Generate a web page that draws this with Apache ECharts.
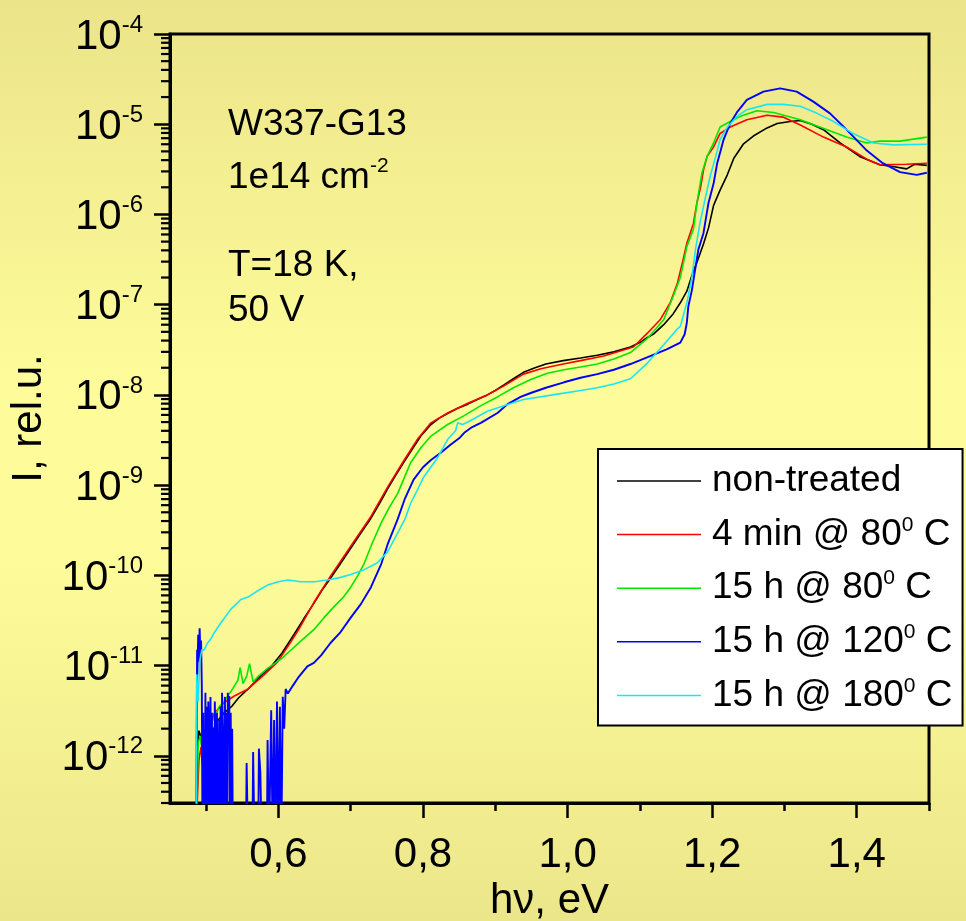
<!DOCTYPE html>
<html><head><meta charset="utf-8">
<script src="https://cdn.jsdelivr.net/npm/echarts@6/dist/echarts.min.js"></script>
<style>html,body{margin:0;padding:0;background:#fbf896;} #c{width:966px;height:921px;}</style>
</head><body><div id="c"></div>
<script>
const FONT = '"Liberation Sans", Arial, Helvetica, sans-serif';

// axis ticks / labels
const xLabelValues = [0.6, 0.8, 1.0, 1.2, 1.4];
const xMinorValues = [0.5, 0.7, 0.9, 1.1, 1.3, 1.5];
const yDecades = [1e-12, 1e-11, 1e-10, 1e-9, 1e-8, 1e-7, 1e-6, 1e-5, 1e-4];
const yMinorMantissas = [2, 3, 4, 5, 6, 7, 8, 9];
const xMin = 0.45, xMax = 1.5, yMin = 3e-13, yMax = 1e-4;

// legend / series names  (^x marks a superscript)
const seriesNames = ['non-treated', '4 min @ 80^0 C', '15 h @ 80^0 C', '15 h @ 120^0 C', '15 h @ 180^0 C'];
const seriesColors = ['#000000', '#ff0000', '#00e800', '#0000ff', '#18e6f2'];

// data: [photon energy hv (eV), I (rel.u.)]
const nonTreated = [[0.488,1.3e-12],[0.490,1.9e-12],[0.493,1.6e-12],[0.496,7.9e-13],[0.499,5.6e-13],[0.503,1.1e-12],[0.508,1.8e-12],[0.515,2.4e-12],[0.525,3.0e-12],[0.535,3.5e-12],[0.545,4.4e-12],[0.558,5.5e-12],[0.575,7.6e-12],[0.590,9.8e-12],[0.605,1.38e-11],[0.622,2.24e-11],[0.635,3.3e-11],[0.649,4.9e-11],[0.660,6.8e-11],[0.672,9.3e-11],[0.685,1.32e-10],[0.700,2.0e-10],[0.714,2.95e-10],[0.728,4.3e-10],[0.740,6.3e-10],[0.751,9.1e-10],[0.763,1.32e-9],[0.774,1.82e-9],[0.785,2.5e-9],[0.797,3.5e-9],[0.811,4.7e-9],[0.822,5.5e-9],[0.834,6.2e-9],[0.848,7.1e-9],[0.862,7.9e-9],[0.875,8.9e-9],[0.889,1.0e-8],[0.900,1.12e-8],[0.912,1.29e-8],[0.925,1.51e-8],[0.939,1.78e-8],[0.955,2.0e-8],[0.970,2.2e-8],[0.994,2.4e-8],[1.018,2.57e-8],[1.041,2.75e-8],[1.064,3.0e-8],[1.087,3.4e-8],[1.100,3.8e-8],[1.110,4.3e-8],[1.120,4.8e-8],[1.133,6.0e-8],[1.146,7.9e-8],[1.156,1.05e-7],[1.165,1.41e-7],[1.172,2.1e-7],[1.179,2.95e-7],[1.188,4.7e-7],[1.195,7.1e-7],[1.202,1.26e-6],[1.211,1.86e-6],[1.221,2.75e-6],[1.230,4.2e-6],[1.243,6.0e-6],[1.257,7.4e-6],[1.276,9.1e-6],[1.290,1.02e-5],[1.308,1.07e-5],[1.322,1.1e-5],[1.338,1.0e-5],[1.354,8.7e-6],[1.377,6.2e-6],[1.404,4.4e-6],[1.432,3.55e-6],[1.450,3.4e-6],[1.469,3.2e-6],[1.480,3.6e-6],[1.497,3.5e-6]];

const min4at80 = [[0.487,2e-13],[0.488,3.5e-13],[0.490,8.9e-13],[0.493,1.26e-12],[0.496,6.3e-13],[0.500,1.12e-12],[0.505,2.0e-12],[0.511,2.95e-12],[0.525,3.9e-12],[0.539,4.6e-12],[0.558,5.5e-12],[0.580,7.9e-12],[0.599,1.1e-11],[0.617,1.82e-11],[0.628,2.5e-11],[0.649,5.0e-11],[0.672,9.8e-11],[0.700,2.1e-10],[0.728,4.5e-10],[0.751,9.5e-10],[0.774,1.9e-9],[0.792,3.2e-9],[0.811,4.9e-9],[0.834,6.3e-9],[0.862,8.1e-9],[0.889,1.0e-8],[0.912,1.26e-8],[0.939,1.7e-8],[0.963,1.95e-8],[0.994,2.2e-8],[1.018,2.4e-8],[1.050,2.7e-8],[1.091,3.4e-8],[1.110,4.8e-8],[1.128,6.8e-8],[1.142,1.05e-7],[1.152,1.74e-7],[1.160,3.2e-7],[1.165,4.8e-7],[1.174,7.9e-7],[1.179,1.35e-6],[1.184,2.0e-6],[1.188,3.1e-6],[1.193,4.4e-6],[1.202,5.6e-6],[1.211,7.9e-6],[1.225,9.3e-6],[1.248,1.12e-5],[1.276,1.26e-5],[1.298,1.2e-5],[1.322,9.8e-6],[1.354,7.2e-6],[1.386,5.6e-6],[1.414,4.1e-6],[1.432,3.55e-6],[1.469,3.6e-6],[1.497,3.7e-6]];

const h15at80 = [[0.487,2e-13],[0.489,1.4e-12],[0.492,1.66e-12],[0.495,1.12e-12],[0.499,1.0e-12],[0.503,1.4e-12],[0.508,2.4e-12],[0.513,2.8e-12],[0.518,3.5e-12],[0.525,4.0e-12],[0.530,4.6e-12],[0.537,5.6e-12],[0.544,6.9e-12],[0.547,9.5e-12],[0.551,6.3e-12],[0.556,7.6e-12],[0.560,1.05e-11],[0.565,6.6e-12],[0.572,7.6e-12],[0.585,9.3e-12],[0.603,1.17e-11],[0.617,1.48e-11],[0.632,1.9e-11],[0.649,2.5e-11],[0.663,3.4e-11],[0.677,4.5e-11],[0.690,5.75e-11],[0.700,7.4e-11],[0.710,1.0e-10],[0.718,1.32e-10],[0.730,2.3e-10],[0.742,3.8e-10],[0.753,5.6e-10],[0.765,8.1e-10],[0.775,1.26e-9],[0.783,1.78e-9],[0.797,2.6e-9],[0.811,3.5e-9],[0.834,4.7e-9],[0.857,5.9e-9],[0.880,7.6e-9],[0.903,9.5e-9],[0.925,1.2e-8],[0.949,1.48e-8],[0.972,1.74e-8],[0.995,1.9e-8],[1.018,2.04e-8],[1.041,2.2e-8],[1.064,2.5e-8],[1.087,2.95e-8],[1.110,4.2e-8],[1.133,6.8e-8],[1.146,1.23e-7],[1.156,2.0e-7],[1.165,4.4e-7],[1.174,6.8e-7],[1.179,1.35e-6],[1.186,2.9e-6],[1.193,4.4e-6],[1.202,6.2e-6],[1.211,9.3e-6],[1.225,1.07e-5],[1.240,1.23e-5],[1.262,1.41e-5],[1.285,1.35e-5],[1.322,1.12e-5],[1.359,8.7e-6],[1.386,7.2e-6],[1.414,6.2e-6],[1.432,6.5e-6],[1.460,6.5e-6],[1.497,7.2e-6]];

const h15at120 = [[0.486,1e-13],[0.487,2.0e-12],[0.4875,1.5e-11],[0.488,8e-12],[0.489,2.2e-11],[0.490,1.1e-11],[0.491,2.6e-11],[0.492,1.3e-11],[0.493,1.9e-11],[0.494,6e-12],[0.495,1e-13],[0.496,3e-12],[0.4965,1e-13],[0.497,2e-12],[0.498,1e-13],[0.499,5e-12],[0.500,1e-13],[0.501,3.5e-12],[0.502,1e-13],[0.503,4e-12],[0.504,1.5e-12],[0.505,1e-13],[0.506,4.5e-12],[0.507,1e-13],[0.508,3e-12],[0.509,1e-13],[0.510,2e-12],[0.511,1e-13],[0.512,4e-12],[0.513,1e-12],[0.514,1e-13],[0.515,3e-12],[0.516,1e-13],[0.518,2.5e-12],[0.519,1e-13],[0.520,3.5e-12],[0.521,1e-13],[0.522,5e-12],[0.523,2e-12],[0.524,1e-13],[0.526,4.5e-12],[0.527,1e-13],[0.528,3e-12],[0.529,1e-13],[0.530,5e-12],[0.531,1.5e-12],[0.532,4.6e-12],[0.533,1e-13],[0.534,3e-12],[0.535,1e-13],[0.536,2e-12],[0.537,1e-13],[0.555,1e-13],[0.556,8.3e-13],[0.558,1e-13],[0.564,1e-13],[0.565,1.1e-12],[0.567,1e-13],[0.572,1e-13],[0.573,1.2e-12],[0.575,6.5e-13],[0.577,1e-13],[0.584,1e-13],[0.585,1.5e-12],[0.587,1e-13],[0.590,3.2e-12],[0.592,1e-13],[0.594,2.5e-12],[0.596,1e-13],[0.598,4e-12],[0.600,1e-13],[0.602,3.5e-12],[0.604,1e-13],[0.606,4.5e-12],[0.608,2e-12],[0.610,5.5e-12],[0.613,4.9e-12],[0.620,6.0e-12],[0.627,7.3e-12],[0.640,9.8e-12],[0.649,1.07e-11],[0.659,1.3e-11],[0.672,1.78e-11],[0.685,2.3e-11],[0.700,3.4e-11],[0.714,4.8e-11],[0.728,7.4e-11],[0.742,1.32e-10],[0.751,2.2e-10],[0.765,4.2e-10],[0.775,7.1e-10],[0.787,1.15e-9],[0.800,1.58e-9],[0.811,1.9e-9],[0.825,2.3e-9],[0.838,2.8e-9],[0.850,3.3e-9],[0.857,3.8e-9],[0.868,4.4e-9],[0.880,4.9e-9],[0.903,6.3e-9],[0.917,7.9e-9],[0.935,9.5e-9],[0.949,1.05e-8],[0.970,1.2e-8],[0.995,1.38e-8],[1.018,1.55e-8],[1.041,1.7e-8],[1.064,1.9e-8],[1.087,2.2e-8],[1.110,2.6e-8],[1.137,3.2e-8],[1.156,3.8e-8],[1.162,4.7e-8],[1.165,6.3e-8],[1.167,9.5e-8],[1.172,1.45e-7],[1.177,2.6e-7],[1.181,4.1e-7],[1.188,6.2e-7],[1.195,1.35e-6],[1.202,2.2e-6],[1.207,3.7e-6],[1.216,6.8e-6],[1.225,1.02e-5],[1.235,1.38e-5],[1.248,1.86e-5],[1.271,2.3e-5],[1.294,2.5e-5],[1.317,2.3e-5],[1.340,1.78e-5],[1.363,1.32e-5],[1.386,8.7e-6],[1.414,5.1e-6],[1.436,3.7e-6],[1.460,2.95e-6],[1.483,2.75e-6],[1.497,2.9e-6]];

const h15at180 = [[0.486,1e-13],[0.487,8e-12],[0.489,4e-12],[0.491,1.1e-11],[0.494,1.5e-11],[0.497,1.48e-11],[0.502,1.78e-11],[0.507,2.0e-11],[0.511,2.3e-11],[0.520,2.95e-11],[0.534,4.2e-11],[0.548,5.4e-11],[0.558,5.75e-11],[0.572,6.8e-11],[0.585,7.8e-11],[0.600,8.5e-11],[0.613,8.9e-11],[0.631,8.5e-11],[0.650,8.5e-11],[0.668,8.9e-11],[0.686,9.5e-11],[0.700,1.02e-10],[0.718,1.15e-10],[0.737,1.38e-10],[0.751,1.82e-10],[0.765,2.95e-10],[0.775,4.2e-10],[0.783,6.3e-10],[0.801,1.23e-9],[0.820,2.0e-9],[0.834,3.2e-9],[0.845,4.0e-9],[0.848,4.9e-9],[0.855,4.7e-9],[0.866,5.2e-9],[0.889,6.6e-9],[0.912,7.6e-9],[0.939,8.9e-9],[0.986,1.02e-8],[1.018,1.12e-8],[1.041,1.2e-8],[1.064,1.32e-8],[1.087,1.51e-8],[1.110,2.24e-8],[1.133,3.6e-8],[1.152,5.4e-8],[1.156,5.75e-8],[1.165,1.05e-7],[1.172,2.0e-7],[1.177,4.1e-7],[1.183,7.9e-7],[1.190,1.45e-6],[1.197,2.6e-6],[1.205,4.4e-6],[1.211,6.8e-6],[1.221,9.3e-6],[1.235,1.23e-5],[1.248,1.45e-5],[1.276,1.66e-5],[1.298,1.66e-5],[1.322,1.58e-5],[1.345,1.32e-5],[1.368,1.07e-5],[1.395,7.9e-6],[1.423,6.2e-6],[1.451,5.9e-6],[1.497,6.0e-6]];

const seriesData = [nonTreated, min4at80, h15at80, h15at120, h15at180];

// log minor tick values (2..9 x 10^n inside the axis range)
const yMinorValues = [];
for (let n = -13; n <= -5; n++) {
  yMinorMantissas.forEach(k => {
    const v = Number((k * Math.pow(10, n)).toPrecision(3));
    if (v >= yMin && v <= yMax) yMinorValues.push(v);
  });
}

const supRich = (name) => name.replace(/\^(\S+)/, '{s|$1}');

const chart = echarts.init(document.getElementById('c'));
const gradient = new echarts.graphic.LinearGradient(0, 0, 0, 1, [
  {offset: 0, color: '#ebe489'},
  {offset: 0.42, color: '#fefc9a'},
  {offset: 0.6, color: '#fefc9a'},
  {offset: 1, color: '#ebe68a'}
]);

const lineSeries = seriesData.map((d, i) => ({
  name: seriesNames[i], type: 'line', xAxisIndex: 0, yAxisIndex: 0,
  data: d, showSymbol: false, symbol: 'none', clip: true,
  color: seriesColors[i],
  itemStyle: {color: seriesColors[i]},
  lineStyle: {color: seriesColors[i], width: i === 3 ? 1.9 : 1.6},
  emphasis: {disabled: true}
}));

// minor ticks of the log axis, placed through the axis scale (api.coord)
const minorTickSeries = {
  type: 'custom', name: 'yMinorTicks', silent: true, clip: false, z: 5,
  xAxisIndex: 0, yAxisIndex: 0,
  data: yMinorValues.map(v => [xMin, v]),
  renderItem: (params, api) => {
    const p = api.coord([api.value(0), api.value(1)]);
    return {type: 'line', shape: {x1: p[0] - 9, y1: p[1], x2: p[0], y2: p[1]},
            style: {stroke: '#000', lineWidth: 2.2}};
  }
};

const option = {
  animation: false,
  backgroundColor: gradient,
  grid: {left: 170, right: 37, top: 34, bottom: 118, show: true, borderColor: '#000', borderWidth: 3, outerBoundsMode: 'none'},
  graphic: [
    {type: 'text', x: 228, y: 125, style: {text: 'W337-G13', fontSize: 37, fontFamily: FONT, fill: '#000', align: 'left', verticalAlign: 'middle'}},
    {type: 'text', x: 228, y: 178, style: {text: '1e14 cm{s|-2}', fontSize: 37, lineHeight: 44, fontFamily: FONT, fill: '#000', align: 'left', verticalAlign: 'middle',
      rich: {s: {fontSize: 21, lineHeight: 20, verticalAlign: 'top', fontFamily: FONT, fill: '#000'}}}},
    {type: 'text', x: 228, y: 266, style: {text: 'T=18 K,', fontSize: 37, fontFamily: FONT, fill: '#000', align: 'left', verticalAlign: 'middle'}},
    {type: 'text', x: 228, y: 311, style: {text: '50 V', fontSize: 37, fontFamily: FONT, fill: '#000', align: 'left', verticalAlign: 'middle'}}
  ],
  legend: {
    show: true, orient: 'vertical', left: 598, top: 449,
    padding: [12, 10, 10, 19], itemGap: 13.6, itemWidth: 84, itemHeight: 1.5,
    icon: 'rect', selectedMode: false,
    backgroundColor: '#ffffff', borderColor: '#000000', borderWidth: 2,
    data: seriesNames,
    formatter: supRich,
    textStyle: {fontSize: 37, lineHeight: 40, fontFamily: FONT, color: '#000', padding: [0, 0, 0, 6],
      rich: {s: {fontSize: 21, lineHeight: 20, verticalAlign: 'top', fontFamily: FONT, color: '#000'}}}
  },
  xAxis: [
    {type: 'value', position: 'bottom', min: xMin, max: xMax,
      name: 'h\u03bd, eV', nameLocation: 'middle', nameGap: 76,
      nameTextStyle: {fontSize: 42, fontFamily: FONT, color: '#000'},
      axisLine: {show: true, lineStyle: {color: '#000', width: 3}},
      axisTick: {show: true, length: 15, customValues: xLabelValues, lineStyle: {color: '#000', width: 2.5}},
      axisLabel: {show: true, customValues: xLabelValues, margin: 31, fontSize: 42, fontFamily: FONT, color: '#000',
        formatter: v => v.toFixed(1).replace('.', ',')},
      splitLine: {show: false}},
    {type: 'value', position: 'bottom', min: xMin, max: xMax,
      axisLine: {show: false},
      axisTick: {show: true, length: 8, customValues: xMinorValues, lineStyle: {color: '#000', width: 2.5}},
      axisLabel: {show: false}, splitLine: {show: false}}
  ],
  yAxis: [
    {type: 'log', position: 'left', min: yMin, max: yMax,
      name: 'I, rel.u.', nameLocation: 'middle', nameGap: 115, nameRotate: 90,
      nameTextStyle: {fontSize: 42, fontFamily: FONT, color: '#000'},
      axisLine: {show: true, lineStyle: {color: '#000', width: 3}},
      axisTick: {show: true, length: 16, customValues: yDecades, lineStyle: {color: '#000', width: 2.5}},
      axisLabel: {show: true, customValues: yDecades, margin: 27, fontFamily: FONT, color: '#000',
        formatter: v => '{b|10}{s|' + Math.round(Math.log10(v)) + '}',
        rich: {b: {fontSize: 42, lineHeight: 42, fontFamily: FONT, color: '#000', padding: [6, 0, 0, 0]},
               s: {fontSize: 24, lineHeight: 30, verticalAlign: 'top', fontFamily: FONT, color: '#000'}}},
      splitLine: {show: false}}
  ],
  series: lineSeries.concat([minorTickSeries])
};
chart.setOption(option);
</script>
</body></html>
